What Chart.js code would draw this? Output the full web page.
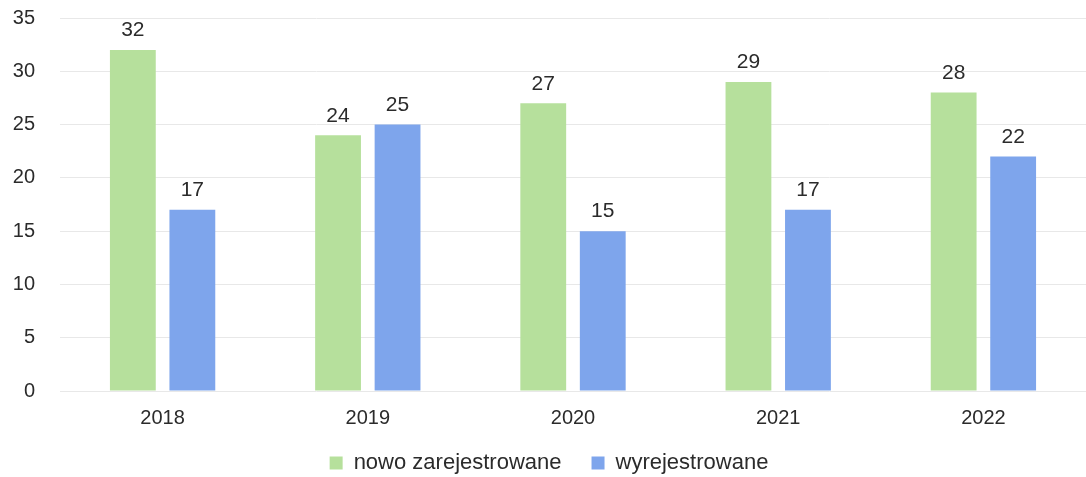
<!DOCTYPE html>
<html>
<head>
<meta charset="utf-8">
<script src="https://cdn.jsdelivr.net/npm/chart.js@4/dist/chart.umd.min.js"></script>
<style>
  html,body{margin:0;padding:0;background:#fff;}
  #wrap{width:1086px;height:477px;}
</style>
</head>
<body>
<div id="wrap"><canvas id="c"></canvas></div>
<script>
var years = ['2018','2019','2020','2021','2022'];
var nowoZarejestrowane = [32, 24, 27, 29, 28];
var wyrejestrowane = [17, 25, 15, 17, 22];
var yTicks = [0, 5, 10, 15, 20, 25, 30, 35];

var FONT = '"Liberation Sans", Arial, sans-serif';

// simple value labels above bars
var barLabels = {
  id:'barLabels',
  afterDatasetsDraw:function(chart){
    var ctx = chart.ctx;
    ctx.save();
    ctx.fillStyle = '#2b2b2b';
    ctx.font = '21px ' + FONT;
    ctx.textAlign = 'center';
    ctx.textBaseline = 'bottom';
    chart.data.datasets.forEach(function(ds, i){
      chart.getDatasetMeta(i).data.forEach(function(bar, j){
        ctx.fillText(ds.data[j], bar.x, bar.y - 9);
      });
    });
    ctx.restore();
  }
};

// legend uses a wide item gap, so start its box higher (bottom stays at the canvas edge)
var legendShift = {
  id:'legendShift',
  afterLayout:function(chart){
    if(chart.legend){ chart.legend.top -= 15; }
  }
};

new Chart(document.getElementById('c'), {
  type:'bar',
  data:{ labels:years, datasets:[
    {label:'nowo zarejestrowane', data:nowoZarejestrowane, backgroundColor:'#b6e09c'},
    {label:'wyrejestrowane', data:wyrejestrowane, backgroundColor:'#7ea5ec'}
  ]},
  options:{
    responsive:true,
    maintainAspectRatio:false,
    animation:false,
    layout:{ padding:{ top:18, left:12, right:0, bottom:0 } },
    datasets:{ bar:{ categoryPercentage:0.58, barPercentage:0.77 } },
    plugins:{
      tooltip:{ enabled:false },
      legend:{
        position:'bottom',
        maxHeight:40,
        labels:{
          boxWidth:13, boxHeight:13, padding:30,
          color:'#2b2b2b',
          font:{ family:FONT, size:22 }
        }
      }
    },
    scales:{
      x:{
        grid:{ display:false },
        border:{ display:false },
        ticks:{ color:'#2b2b2b', padding:7, font:{ family:FONT, size:20 } }
      },
      y:{
        min:0, max:35,
        afterBuildTicks:function(s){ s.ticks = yTicks.map(function(v){ return {value:v}; }); },
        afterFit:function(s){ s.width = 48; s.paddingTop = 0; s.paddingBottom = 0; },
        grid:{ color:'#e8e8e8', drawTicks:false },
        border:{ display:false },
        ticks:{ color:'#2b2b2b', padding:25, font:{ family:FONT, size:20 } }
      }
    }
  },
  plugins:[barLabels, legendShift]
});
</script>
</body>
</html>
